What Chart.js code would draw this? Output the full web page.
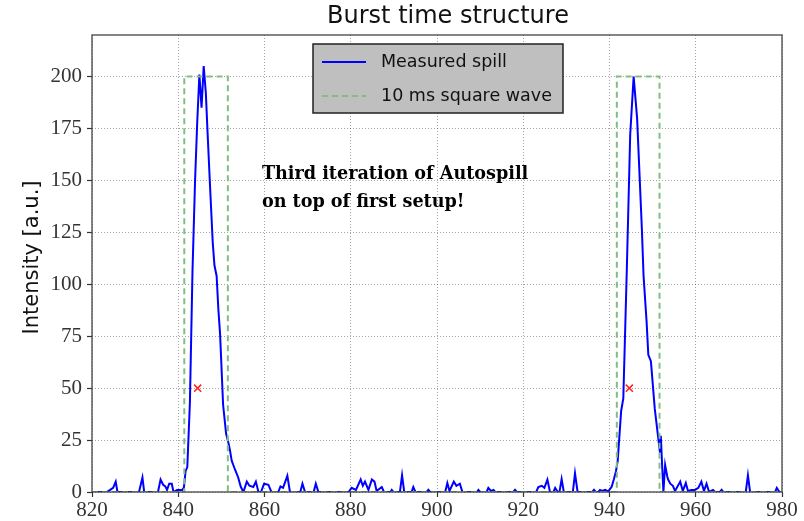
<!DOCTYPE html>
<html>
<head>
<meta charset="utf-8">
<script src="https://cdn.jsdelivr.net/npm/chart.js@4.4.1/dist/chart.umd.min.js"></script>
<style>
  html, body { margin: 0; padding: 0; background: #fff; }
  #wrap { width: 804px; height: 521px; }
</style>
</head>
<body>
<div id="wrap"><canvas id="burstChart" width="804" height="521"></canvas></div>
<script>
// measured spill, time in ms
const timeMs = [
  820, 823.4, 824.2, 824.9, 825.5, 825.9, 830.9, 831.7, 832.1, 835.3,
  835.9, 836.5, 837.0, 837.4, 837.9, 838.5, 838.9, 839.7, 840.9, 841.3,
  841.7, 842.1, 842.7, 843.3, 843.9, 844.4, 844.9, 845.4, 845.9, 846.4,
  846.8, 847.4, 848.0, 848.4, 848.9, 849.3, 849.7, 850.4, 851.1, 851.6,
  852.0, 852.4, 853.2, 853.9, 854.5, 855.1, 855.9, 856.5, 857.4, 858.0,
  858.6, 859.2, 859.9, 860.9, 861.6, 863.2, 863.7, 864.3, 865.3, 865.9,
  868.3, 868.8, 869.4, 871.4, 871.9, 872.5, 879.5, 880.2, 881.2, 882.3,
  882.8, 883.3, 884.1, 884.9, 885.5, 886.0, 887.2, 887.7, 889.2, 889.5,
  889.9, 891.4, 891.9, 892.4, 894.1, 894.5, 895.0, 897.6, 898.0, 898.4,
  901.9, 902.4, 902.9, 903.9, 904.5, 905.3, 905.9, 909.3, 909.6, 910.0,
  911.5, 911.9, 912.5, 913.1, 913.5, 917.7, 918.1, 918.5, 923.0, 923.5,
  924.3, 924.9, 925.6, 926.2, 927.0, 927.4, 928.0, 928.4, 928.9, 929.4,
  931.5, 932.0, 932.6, 936.0, 936.4, 936.8, 937.4, 937.8, 938.3, 939.0,
  939.7, 940.5, 941.0, 941.5, 941.9, 942.7, 943.2, 944.0, 944.8, 945.6,
  946.4, 947.5, 947.9, 948.6, 949.0, 949.6, 950.5, 951.3, 951.7, 951.9,
  952.2, 952.5, 952.9, 953.4, 953.6, 954.1, 954.7, 955.2, 956.4, 957.0,
  957.7, 958.2, 959.0, 959.8, 960.6, 961.3, 961.9, 962.5, 963.1, 964.0,
  964.5, 965.6, 966.0, 966.4, 971.6, 972.1, 972.6, 978.4, 978.8, 979.4,
  980
];
const spill = [
  0, 0, 1, 2, 5, 0, 0, 7, 0, 0,
  6, 3.5, 2.7, 1, 4, 4, 0, 1, 1, 2,
  10, 12, 43, 106, 150, 178, 201, 185, 205, 192,
  173, 146, 120, 109, 104, 88, 76, 42, 28, 24,
  20, 15, 10.6, 7, 2.5, 0, 5, 3, 2.4, 5,
  0, 0, 4, 3.5, 0, 0, 2.7, 2, 7.8, 0,
  0, 4, 0, 0, 4, 0, 0, 2, 1, 6,
  3, 5, 1, 6, 5, 0.5, 2.4, 0, 0, 1,
  0, 0, 8, 0, 0, 2.4, 0, 0, 1, 0,
  0, 4.3, 0.5, 5, 3, 4, 0, 0, 1, 0,
  0, 2, 0.5, 1, 0, 0, 1, 0, 0, 2.4,
  3, 2, 6, 0, 0, 2, 0, 0, 6.2, 0,
  0, 9, 0, 0, 1, 0, 0, 1, 0.5, 1,
  0.3, 2.5, 6, 10, 15, 39, 45, 106, 172, 200,
  180, 127, 104, 82, 66, 63, 40, 26, 19, 27,
  13, 0, 13, 7.5, 6, 4, 3, 0.5, 5, 0.5,
  4.3, 0.5, 1, 1, 2, 5, 0.5, 4, 0, 1,
  0, 0, 1, 0, 0, 8, 0, 0, 2, 0,
  0
];

// 10 ms square wave
const squareTime = [820, 841.4, 841.4, 851.5, 851.5, 941.7, 941.7, 951.6, 951.6, 980];
const squareLevel = [0, 0, 200, 200, 0, 0, 200, 200, 0, 0];

// red crosses
const markerTime = [844.5, 944.6];
const markerLevel = [50, 50];

const xTicks = [820, 840, 860, 880, 900, 920, 940, 960, 980];
const yTicks = [0, 25, 50, 75, 100, 125, 150, 175, 200];

const titleText = "Burst time structure";
const yLabel = "Intensity [a.u.]";
const noteLines = ["Third iteration of Autospill", "on top of first setup!"];

function pairs(xs, ys) {
  return xs.map((x, i) => ({ x: x, y: ys[i] }));
}

const tickFont = { family: "'Liberation Serif', serif", size: 21 };
const gridStyle = {
  color: "rgba(0,0,0,0.45)",
  lineWidth: 0.8,
  tickLength: 5,
  tickColor: "#333",
  tickWidth: 1.2,
  drawTicks: true
};

const extras = {
  id: "extras",
  afterDraw(chart) {
    const ctx = chart.ctx;
    const a = chart.chartArea;
    const xs = chart.scales.x;
    const ys = chart.scales.y;
    ctx.save();

    // axes frame
    ctx.strokeStyle = "#444";
    ctx.lineWidth = 1.3;
    ctx.strokeRect(a.left, a.top, a.right - a.left, a.bottom - a.top);

    // title
    ctx.fillStyle = "#111";
    ctx.font = "24px 'DejaVu Sans', sans-serif";
    ctx.textAlign = "center";
    ctx.textBaseline = "middle";
    ctx.fillText(titleText, (a.left + a.right) / 2 + 11, 17);

    // y label
    ctx.save();
    ctx.translate(33, (a.top + a.bottom) / 2 - 6);
    ctx.rotate(-Math.PI / 2);
    ctx.font = "21px 'DejaVu Sans', sans-serif";
    ctx.fillText(yLabel, 0, 0);
    ctx.restore();

    // legend box
    const lx = a.left + 221, ly = a.top + 9, lw = 250, lh = 69;
    ctx.fillStyle = "#bfbfbf";
    ctx.fillRect(lx, ly, lw, lh);
    ctx.strokeStyle = "#222";
    ctx.lineWidth = 1.5;
    ctx.strokeRect(lx, ly, lw, lh);
    const rows = [
      { label: chart.data.datasets[2].label, color: "#0000ff", dash: [] },
      { label: chart.data.datasets[1].label, color: "#80bf80", dash: [6, 4] }
    ];
    ctx.font = "17.5px 'DejaVu Sans', sans-serif";
    ctx.textAlign = "left";
    rows.forEach((r, i) => {
      const yy = ly + 18 + i * 34;
      ctx.strokeStyle = r.color;
      ctx.lineWidth = 2;
      ctx.setLineDash(r.dash);
      ctx.beginPath();
      ctx.moveTo(lx + 9, yy);
      ctx.lineTo(lx + 53, yy);
      ctx.stroke();
      ctx.setLineDash([]);
      ctx.fillStyle = "#111";
      ctx.fillText(r.label, lx + 68, yy);
    });

    // annotation text
    ctx.font = "bold 17.6px 'DejaVu Serif', serif";
    ctx.fillStyle = "#000";
    const tx = xs.getPixelForValue(859.4);
    noteLines.forEach((line, i) => {
      ctx.fillText(line, tx, ys.getPixelForValue(153) + i * 28);
    });
    ctx.restore();
  }
};

new Chart(document.getElementById("burstChart"), {
  type: "line",
  data: {
    datasets: [
      {
        label: "markers",
        data: pairs(markerTime, markerLevel),
        showLine: false,
        pointStyle: "crossRot",
        pointRadius: 5,
        borderColor: "#ff2020",
        borderWidth: 1.5,
        order: 0
      },
      {
        label: "10 ms square wave",
        data: pairs(squareTime, squareLevel),
        borderColor: "#80bf80",
        borderWidth: 2,
        borderDash: [6, 4],
        pointRadius: 0,
        tension: 0,
        order: 1
      },
      {
        label: "Measured spill",
        data: pairs(timeMs, spill),
        borderColor: "#0000ff",
        borderWidth: 2,
        pointRadius: 0,
        tension: 0,
        order: 2
      }
    ]
  },
  options: {
    responsive: false,
    animation: false,
    devicePixelRatio: 1,
    layout: { padding: { top: 35, right: 22, bottom: 0, left: 0 } },
    plugins: {
      legend: { display: false },
      title: { display: false },
      tooltip: { enabled: false }
    },
    scales: {
      x: {
        type: "linear",
        min: 820,
        max: 980,
        afterBuildTicks: (s) => { s.ticks = xTicks.map((v) => ({ value: v })); },
        afterFit: (s) => { s.height = 29; },
        ticks: { font: tickFont, color: "#333", padding: 1, maxRotation: 0 },
        grid: gridStyle,
        border: { display: false, dash: [1, 2] }
      },
      y: {
        type: "linear",
        min: 0,
        max: 220,
        afterBuildTicks: (s) => { s.ticks = yTicks.map((v) => ({ value: v })); },
        afterFit: (s) => { s.width = 92; },
        ticks: { font: tickFont, color: "#333", padding: 5 },
        grid: gridStyle,
        border: { display: false, dash: [1, 2] }
      }
    }
  },
  plugins: [extras]
});
</script>
</body>
</html>
